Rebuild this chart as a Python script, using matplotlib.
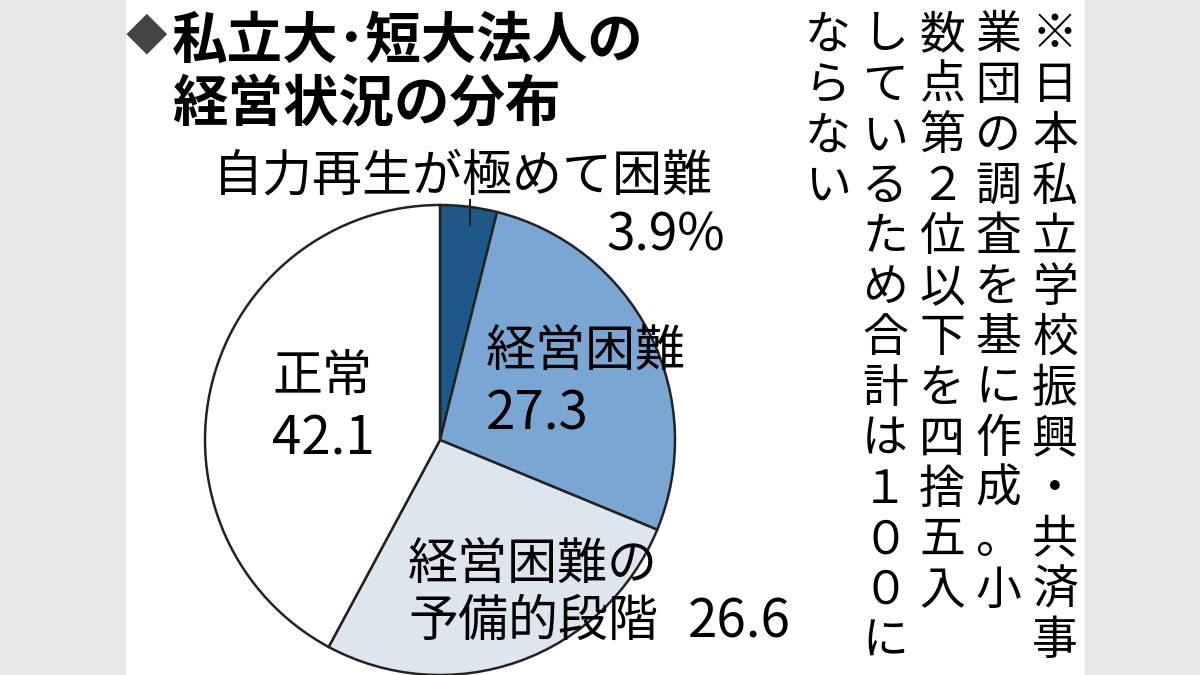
import matplotlib.pyplot as plt
from matplotlib.patches import Rectangle

plt.rcParams['font.family'] = ['Noto Sans CJK JP', 'DejaVu Sans']

labels = ['自力再生が極めて困難', '経営困難', '経営困難の\n予備的段階', '正常']
values = [3.9, 27.3, 26.6, 42.1]
colors = ['#1d5888', '#7aa6d3', '#dde6ef', '#ffffff']
note_cols = ['※日本私立学校振興・共済事', '業団の調査を基に作成。小',
             '数点第２位以下を四捨五入', 'しているため合計は１００に', 'ならない']

fig = plt.figure(figsize=(12, 6.75), dpi=100)
fig.patches.append(Rectangle((0, 0), 125 / 1200, 1, transform=fig.transFigure, color='#e6e6e6', zorder=0))
fig.patches.append(Rectangle((1085 / 1200, 0), 115 / 1200, 1, transform=fig.transFigure, color='#e6e6e6', zorder=0))

# pie: centre (440, 440) px, radius 235 px
r = 235
ax = fig.add_axes([(440 - r) / 1200, (675 - 440 - r) / 675, 2 * r / 1200, 2 * r / 675])
ax.pie(values, colors=colors, startangle=90, counterclock=False,
       wedgeprops=dict(edgecolor='#222222', linewidth=1.8))
ax.set_xlim(-1, 1)
ax.set_ylim(-1, 1)

def px(x, y):
    return x / 1200, 1 - y / 675

# title
fig.text(*px(125, 38), '◆', fontsize=30, color='#444444', va='center')
fig.text(*px(172, 42), '私立大･短大法人の', fontsize=40, fontweight='bold', va='center')
fig.text(*px(172, 105), '経営状況の分布', fontsize=40, fontweight='bold', va='center')

# labels
fig.text(*px(213, 176), labels[0], fontsize=36, va='center')
fig.text(*px(725, 236), '3.9%', fontsize=37, va='center', ha='right')
fig.lines.append(plt.Line2D([470 / 1200, 470 / 1200], [1 - 200 / 675, 1 - 225 / 675],
                            transform=fig.transFigure, color='#222222', lw=1.5))
fig.text(*px(486, 352), labels[1], fontsize=36, va='center')
fig.text(*px(486, 414), '27.3', fontsize=38, va='center')
fig.text(*px(272, 377), '正常', fontsize=36, va='center')
fig.text(*px(272, 439), '42.1', fontsize=38, va='center')
fig.text(*px(408, 565), '経営困難の', fontsize=36, va='center')
fig.text(*px(408, 622), '予備的段階', fontsize=36, va='center')
fig.text(*px(688, 622), '26.6', fontsize=38, va='center')

# vertical note
xs = [1055, 998, 942, 885, 828]
for x, col in zip(xs, note_cols):
    for i, ch in enumerate(col):
        fig.text(*px(x, 35 + i * 50.5), ch, fontsize=33, ha='center', va='center')

fig.savefig('out.png', dpi=100)
